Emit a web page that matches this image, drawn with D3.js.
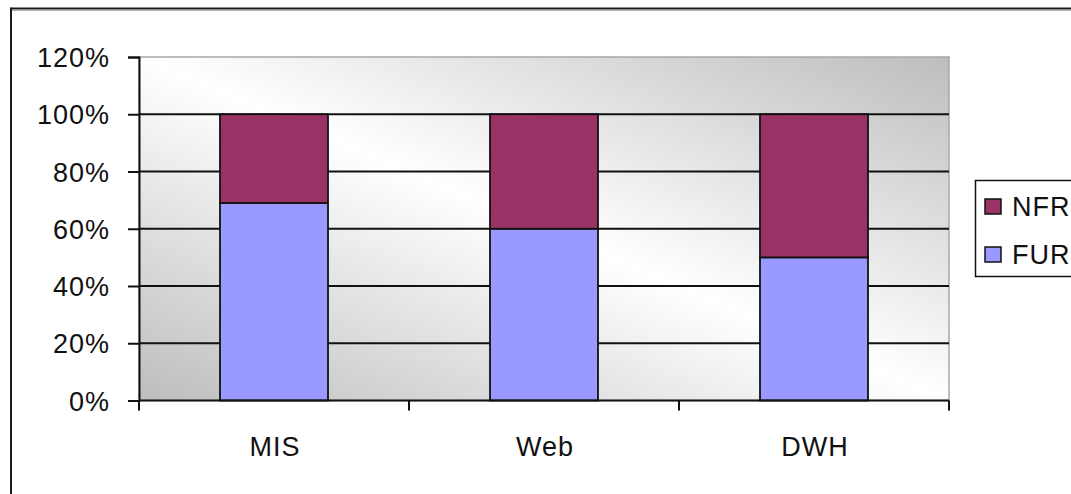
<!DOCTYPE html>
<html>
<head>
<meta charset="utf-8">
<script src="https://cdn.jsdelivr.net/npm/d3@7"></script>
<style>
  html, body { margin: 0; padding: 0; background: #fff; }
  svg { display: block; }
  text { font-family: "Liberation Sans", Arial, sans-serif; fill: #111; }
</style>
</head>
<body>
<script>
// Share of functional (FUR) vs non-functional (NFR) requirements per project type
const categories = ["MIS", "Web", "DWH"];
const furValues = [0.69, 0.60, 0.50];
const nfrValues = [0.31, 0.40, 0.50];
const seriesNames = ["FUR", "NFR"];
const yTicks = [0, 0.2, 0.4, 0.6, 0.8, 1.0, 1.2];
const yTickLabels = ["0%", "20%", "40%", "60%", "80%", "100%", "120%"];

const colors = { FUR: "#9999FF", NFR: "#993366" };

const W = 1071, H = 494;
const plot = { left: 139, top: 57, right: 949, bottom: 400.5 };
const fontSize = 27;

const svg = d3.select("body").append("svg")
  .attr("width", W).attr("height", H);

// outer chart frame (runs off the right and bottom edges)
svg.append("line").attr("x1", 11).attr("x2", W + 5).attr("y1", 8.5).attr("y2", 8.5)
  .attr("stroke", "#1a1a1a").attr("stroke-width", 2);
svg.append("line").attr("x1", 11).attr("x2", W + 5).attr("y1", 10.5).attr("y2", 10.5)
  .attr("stroke", "#b0b0b0").attr("stroke-width", 1);
svg.append("line").attr("x1", 11).attr("x2", 11).attr("y1", 7.5).attr("y2", H + 5)
  .attr("stroke", "#1a1a1a").attr("stroke-width", 2);

const x = d3.scaleBand()
  .domain(categories)
  .range([plot.left, plot.right])
  .paddingInner(0.6)
  .paddingOuter(0.3);

const y = d3.scaleLinear()
  .domain([0, 1.2])
  .range([plot.bottom, plot.top]);

// plot area background: grey at bottom-left and top-right, white along the middle diagonal
const defs = svg.append("defs");
const grad = defs.append("linearGradient").attr("id", "plotBg")
  .attr("x1", 0).attr("y1", 1).attr("x2", 1).attr("y2", 0);
grad.append("stop").attr("offset", "0%").attr("stop-color", "#bdbdbd");
grad.append("stop").attr("offset", "50%").attr("stop-color", "#ffffff");
grad.append("stop").attr("offset", "100%").attr("stop-color", "#bdbdbd");

svg.append("rect")
  .attr("x", plot.left).attr("y", plot.top)
  .attr("width", plot.right - plot.left).attr("height", plot.bottom - plot.top)
  .attr("fill", "url(#plotBg)")
  .attr("stroke", "#a8a8a8").attr("stroke-width", 1.5);

// horizontal gridlines
svg.append("g").selectAll("line")
  .data(yTicks.filter(v => v > 0 && v < 1.2))
  .join("line")
  .attr("x1", plot.left).attr("x2", plot.right)
  .attr("y1", d => y(d)).attr("y2", d => y(d))
  .attr("stroke", "#111").attr("stroke-width", 2);

// stacked bars
const rows = categories.map((c, i) => ({ cat: c, FUR: furValues[i], NFR: nfrValues[i] }));
const stacked = d3.stack().keys(seriesNames)(rows);

svg.append("g").selectAll("g")
  .data(stacked)
  .join("g")
  .attr("fill", d => colors[d.key])
  .selectAll("rect")
  .data(d => d)
  .join("rect")
  .attr("x", d => x(d.data.cat))
  .attr("width", x.bandwidth())
  .attr("y", d => y(d[1]))
  .attr("height", d => y(d[0]) - y(d[1]))
  .attr("stroke", "#111").attr("stroke-width", 1.8);

// y axis
const yAxis = d3.axisLeft(y)
  .tickValues(yTicks)
  .tickFormat((d, i) => yTickLabels[i])
  .tickSize(11)
  .tickPadding(18);
const gy = svg.append("g").attr("transform", `translate(${plot.left},0)`).call(yAxis);
gy.select(".domain").attr("stroke", "#111").attr("stroke-width", 2);
gy.selectAll(".tick line").attr("stroke", "#111").attr("stroke-width", 2);
gy.selectAll(".tick text")
  .attr("font-size", fontSize).attr("letter-spacing", "1px")
  .attr("font-family", "'Liberation Sans', Arial, sans-serif")
  .attr("fill", "#111").attr("dy", "0.36em");

// x axis: ticks sit on category boundaries
const gx = svg.append("g");
gx.append("line")
  .attr("x1", plot.left).attr("x2", plot.right)
  .attr("y1", plot.bottom).attr("y2", plot.bottom)
  .attr("stroke", "#111").attr("stroke-width", 2);
const edges = [plot.left].concat(categories.map((c, i) => plot.left + x.step() * (i + 1)));
gx.selectAll("line.tick")
  .data(edges)
  .join("line").attr("class", "tick")
  .attr("x1", d => d).attr("x2", d => d)
  .attr("y1", plot.bottom).attr("y2", plot.bottom + 10)
  .attr("stroke", "#111").attr("stroke-width", 2);
gx.selectAll("text")
  .data(categories)
  .join("text")
  .attr("x", d => x(d) + x.bandwidth() / 2 + 1)
  .attr("y", 456)
  .attr("text-anchor", "middle")
  .attr("font-size", fontSize).attr("letter-spacing", "1px")
  .text(d => d);

// legend (clipped by the right edge)
const legend = svg.append("g");
legend.append("rect")
  .attr("x", 975.5).attr("y", 180.5)
  .attr("width", 120).attr("height", 96)
  .attr("fill", "#fff").attr("stroke", "#111").attr("stroke-width", 1.5);
const legendItems = seriesNames.slice().reverse();
const li = legend.selectAll("g.item")
  .data(legendItems)
  .join("g").attr("class", "item")
  .attr("transform", (d, i) => `translate(985,${199 + i * 48})`);
li.append("rect")
  .attr("width", 16).attr("height", 15)
  .attr("fill", d => colors[d])
  .attr("stroke", "#111").attr("stroke-width", 1.5);
li.append("text")
  .attr("x", 27).attr("y", 17)
  .attr("font-size", fontSize).attr("letter-spacing", "1px")
  .text(d => d);
</script>
</body>
</html>
